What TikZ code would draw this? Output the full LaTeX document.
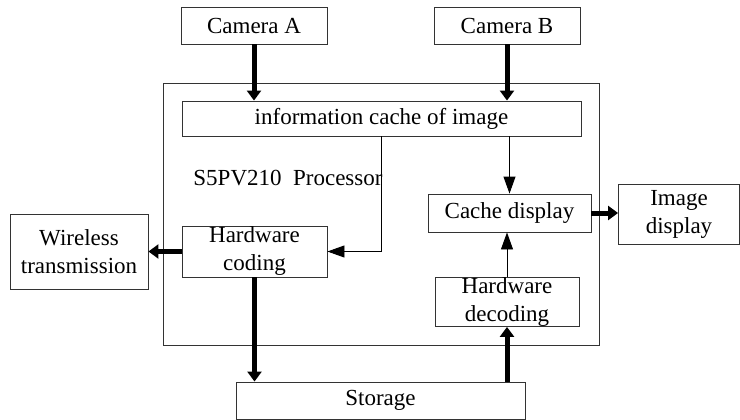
\documentclass[tikz,border=0pt]{standalone}
\usepackage{fontspec}
\setmainfont{Liberation Serif}
\usetikzlibrary{arrows.meta,positioning,calc}

\tikzset{
  block/.style={draw=black!80, line width=0.9pt, inner sep=0pt, align=center,
    font=\fontsize{23}{28}\selectfont},
  bigflow/.style={line width=5pt, -{Triangle[width=14pt,length=10pt]}},
  smallflow/.style={line width=0.9pt, -{Triangle[width=12pt,length=17pt]}}
}

\begin{document}
\begin{tikzpicture}[x=1pt,y=-1pt]
\useasboundingbox (0,0) rectangle (740,420);
% processor frame
\draw [black!80, line width=0.9pt] (163,83) rectangle (599,345);
\node [font=\fontsize{23}{28}\selectfont] (proclabel) at (288,178) {S5PV210\ \ Processor};
% blocks
\node [block, minimum width=146pt, minimum height=37pt] (camA) at (254,25.5) {Camera A};
\node [block, minimum width=146pt, minimum height=37pt] (camB) at (507,25.5) {Camera B};
\node [block, minimum width=399pt, minimum height=35pt] (info) at (381.5,118.5) {information cache of image};
\node [block, minimum width=163pt, minimum height=38pt] (cachedisp) at (509.5,213) {Cache display};
\node [block, minimum width=121pt, minimum height=60pt] (imgdisp) at (679,214) {Image\\display};
\node [block, minimum width=145pt, minimum height=51pt] (hwcod) at (254.5,251.5) {Hardware\\coding};
\node [block, minimum width=138pt, minimum height=75pt] (wireless) at (79,251.5) {Wireless\\transmission};
\node [block, minimum width=144pt, minimum height=48pt] (hwdec) at (507,302) {Hardware\\decoding};
\node [block, minimum width=289pt, minimum height=37pt] (storage) at (380.5,400.5) {Storage};
% connections
\draw [bigflow] (camA.south) -- (camA.south |- info.north);
\draw [bigflow] (camB.south) -- (camB.south |- info.north);
\draw [smallflow] (info.south) -- (info.south |- hwcod.east) -- (hwcod.east);
\draw [smallflow] (cachedisp.north |- info.south) -- (cachedisp.north);
\draw [bigflow] (cachedisp.east) -- (cachedisp.east -| imgdisp.west);
\draw [bigflow] (hwcod.west) -- (wireless.east);
\draw [smallflow] (hwdec.north) -- (hwdec.north |- cachedisp.south);
\draw [bigflow] (hwcod.south) -- (hwcod.south |- storage.north);
\draw [bigflow] (hwdec.south |- storage.north) -- (hwdec.south);
\end{tikzpicture}
\end{document}
